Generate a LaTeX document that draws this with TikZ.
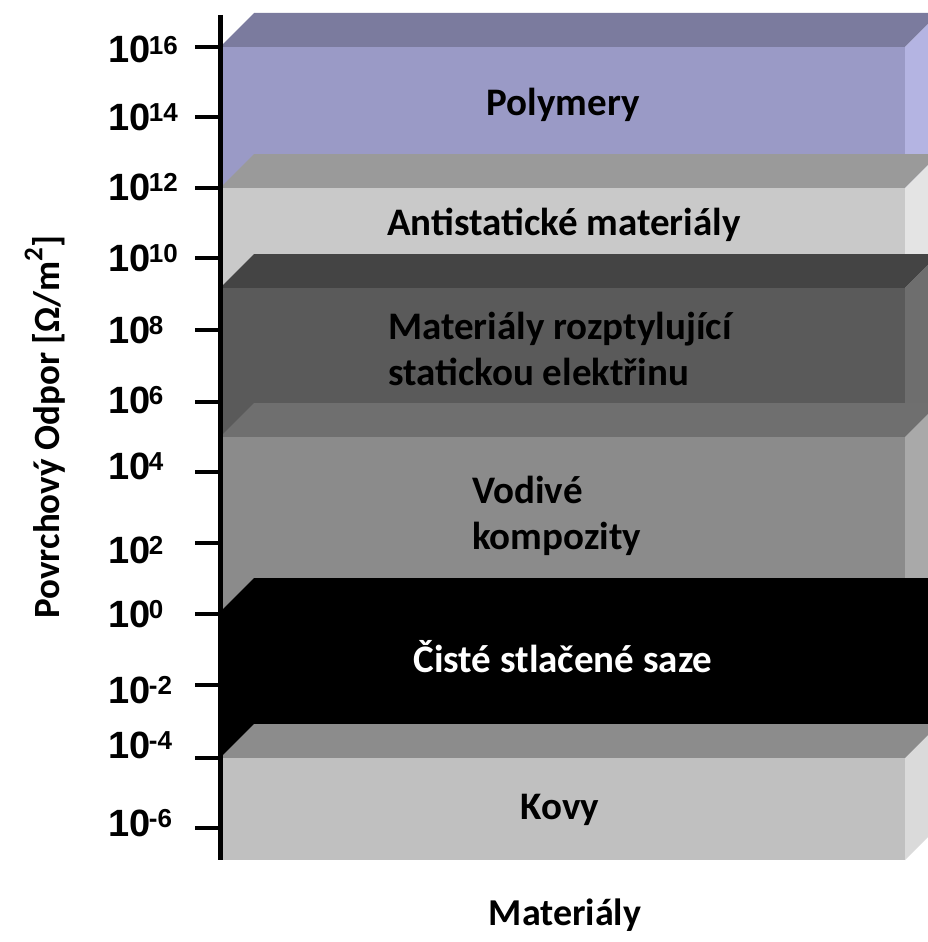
\documentclass[tikz,border=0pt]{standalone}
\usepackage{fontspec}
\setmainfont{Carlito}
\newfontfamily\arialfont{Liberation Sans}
\usepackage{tikz}

\definecolor{polytop}{HTML}{7B7B9E}
\definecolor{polyfront}{HTML}{9A9AC6}
\definecolor{polyside}{HTML}{B4B4E2}
\definecolor{antitop}{HTML}{9A9A9A}
\definecolor{antifront}{HTML}{C9C9C9}
\definecolor{antiside}{HTML}{E4E4E4}
\definecolor{disstop}{HTML}{444444}
\definecolor{dissfront}{HTML}{5A5A5A}
\definecolor{dissside}{HTML}{6E6E6E}
\definecolor{condtop}{HTML}{6F6F6F}
\definecolor{condfront}{HTML}{8B8B8B}
\definecolor{condside}{HTML}{A9A9A9}
\definecolor{metaltop}{HTML}{8C8C8C}
\definecolor{metalfront}{HTML}{C0C0C0}
\definecolor{metalside}{HTML}{DADADA}

\newcommand\tenpow[1]{10\kern-1.5pt\raisebox{8.6pt}{\fontsize{26}{26}\selectfont #1}}

\begin{document}
\begin{tikzpicture}[x=1pt,y=-1pt]
    	\tikzstyle{bandlabel} =
    	[font = \fontsize{39}{46}\selectfont\bfseries,
    	inner sep = 0pt]
    	\tikzstyle{ticklabel} =
    	[font = \arialfont\bfseries\fontsize{38}{38}\selectfont,
    	anchor = base west,
    	inner sep = 0pt]
    	\tikzstyle{axistick} =
    	[line width = 4pt]

        \useasboundingbox (0,0) rectangle (928,942);
        \clip (0,0) rectangle (928,942);

        % boxes, top to bottom
        \foreach \ytop/\ybot/\sd/\cf/\ct/\cs in
        	{47/188/0/polyfront/polytop/polyside,
        	 188/288/0/antifront/antitop/antiside,
        	 288/437/0/dissfront/disstop/dissside,
        	 437/612/0/condfront/condtop/condside,
        	 612/758/34/black/black/black,
        	 758/860/0/metalfront/metaltop/metalside}
        {
        	\fill[\ct] (220,\ytop) -- (905,\ytop) -- (939,\ytop-34)
        		-- (254,\ytop-34) -- cycle;
        	\fill[\cs] (905,\ytop-\sd) -- (939,\ytop-34) -- (939,\ybot-34)
        		-- (905,\ybot) -- cycle;
        	\fill[\cf] (220,\ytop) rectangle (905,\ybot);
        }

        \node[bandlabel]                        (poly)  at (563,105) {Polymery};
        \node[bandlabel]                        (anti)  at (564,225) {Antistatické materiály};
        \node[bandlabel, anchor=west, align=left] (diss) at (388,349)
        	{Materiály rozptylující\\statickou elektřinu};
        \node[bandlabel, anchor=west, align=left] (cond) at (472,516)
        	{Vodivé\\kompozity};
        \node[bandlabel, text=white]            (soot)  at (563,657) {Čisté stlačené saze};
        \node[bandlabel]                        (metal) at (560,810) {Kovy};

        % axis
        \coordinate (axtop) at (220,15);
        \coordinate (axbot) at (220,860);
        \draw[line width = 5pt] (axtop) -- (axbot);

        \foreach \e/\ty/\ly in
        	{16/47/50, 14/117/117, 12/188/187, 10/258/258,
        	 8/330/330, 6/402/400, 4/472/466, 2/543/550,
        	 0/614/614, -2/685/690, -4/758/745, -6/828/823}
        {
        	\draw[axistick] (195,\ty) -- (axtop |- 0,\ty);
        	\node[ticklabel] (t\e) at (108,\ly+13) {\tenpow{\e}};
        }

        \node[bandlabel, font=\fontsize{37}{37}\selectfont\bfseries, rotate=90]
        	(ytitle) at (45,427)
        	{Povrchový Odpor [Ω/m\raisebox{17pt}{\fontsize{27}{27}\selectfont 2}]};
        \node[bandlabel, font=\fontsize{38}{38}\selectfont\bfseries]
        	(xtitle) at (565,915) {Materiály};
\end{tikzpicture}
\end{document}
